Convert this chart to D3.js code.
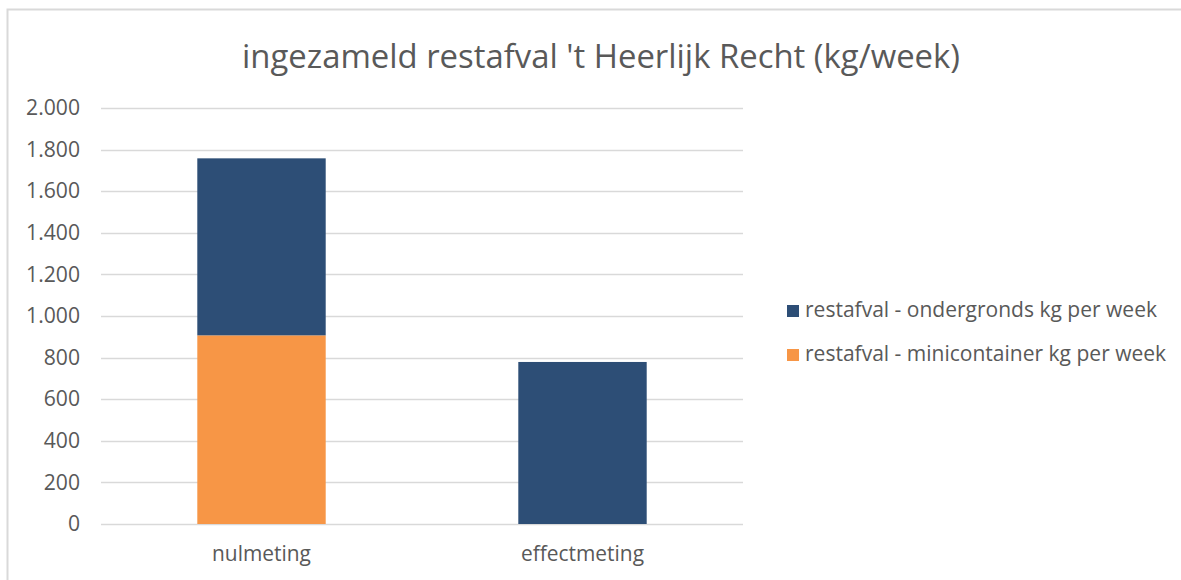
<!DOCTYPE html>
<html>
<head>
<meta charset="utf-8">
<script src="https://cdn.jsdelivr.net/npm/d3@7"></script>
<style>
  body { margin: 0; background: #fff; }
  text { font-family: "Open Sans", "Lato", sans-serif; fill: #595959; }
</style>
</head>
<body>
<div id="chart"></div>
<script>
// chart data
var categories = ["nulmeting", "effectmeting"];
var seriesNames = ["restafval - ondergronds kg per week", "restafval - minicontainer kg per week"];
var ondergronds = [851, 779];
var minicontainer = [907, 0];
var yTicks = [0, 200, 400, 600, 800, 1000, 1200, 1400, 1600, 1800, 2000];
var colors = ["#2d4e76", "#f79646"];

var W = 1181, H = 580;
var margin = {top: 108, left: 101, right: 438, bottom: 56};
var width = W - margin.left - margin.right;   // plot width
var height = H - margin.top - margin.bottom;  // plot height

// shrink/grow font so a text hits the width it has in the original (Calibri isn't available)
function fitWidth(sel, target) {
    sel.each(function() {
        var fs = parseFloat(d3.select(this).style("font-size"));
        var w = this.getComputedTextLength();
        d3.select(this).style("font-size", (fs * target / w).toFixed(2) + "px");
    });
}

var svg = d3.select("#chart").append("svg")
    .attr("width", W)
    .attr("height", H);

// outer chart border (cut off at right/bottom like the original)
svg.append("rect")
    .attr("x", 7.5).attr("y", 9.5)
    .attr("width", W + 10).attr("height", H + 10)
    .attr("fill", "none")
    .attr("stroke", "#d9d9d9")
    .attr("stroke-width", 2);

// title
svg.append("text")
    .attr("x", 601).attr("y", 68)
    .attr("text-anchor", "middle")
    .style("font-size", "28px")
    .text("ingezameld restafval 't Heerlijk Recht (kg/week)")
    .call(fitWidth, 718);

var g = svg.append("g")
    .attr("transform", "translate(" + margin.left + "," + margin.top + ")");

var x = d3.scaleBand()
    .domain(categories)
    .range([0, width])
    .paddingInner(0.6)
    .paddingOuter(0.3);

var y = d3.scaleLinear()
    .domain([0, 2000])
    .range([height, 0]);

var fmt = function(d) { return d3.format(",")(d).replace(/,/g, "."); };

// gridlines
g.append("g")
    .selectAll("line")
    .data(yTicks)
    .enter().append("line")
    .attr("x1", 0).attr("x2", width)
    .attr("y1", function(d) { return Math.round(y(d)) + 0.5; })
    .attr("y2", function(d) { return Math.round(y(d)) + 0.5; })
    .attr("stroke", "#d9d9d9")
    .attr("stroke-width", 1.5);

// y axis labels
var yAxis = d3.axisLeft(y).tickValues(yTicks).tickFormat(fmt).tickSize(0).tickPadding(21);
var yAxisG = g.append("g").call(yAxis);
yAxisG.select(".domain").remove();
yAxisG.selectAll("text")
    .attr("font-family", null)
    .style("font-size", "17px")
    .attr("fill", "#595959");
yAxisG.selectAll("text").filter(function(d) { return d === 2000; }).call(fitWidth, 54);
var ySize = yAxisG.selectAll("text").filter(function(d) { return d === 2000; }).style("font-size");
yAxisG.selectAll("text").style("font-size", ySize);

// x axis labels
var xAxis = d3.axisBottom(x).tickSize(0).tickPadding(22);
var xAxisG = g.append("g")
    .attr("transform", "translate(0," + height + ")")
    .call(xAxis);
xAxisG.select(".domain").remove();
xAxisG.selectAll("text")
    .attr("font-family", null)
    .style("font-size", "18px")
    .attr("fill", "#595959");
xAxisG.selectAll("text").filter(function(d) { return d === "nulmeting"; }).call(fitWidth, 99);
var xSize = xAxisG.selectAll("text").filter(function(d) { return d === "nulmeting"; }).style("font-size");
xAxisG.selectAll("text").style("font-size", xSize);

// stacked bars
var rows = categories.map(function(c, i) {
    return {cat: c, minicontainer: minicontainer[i], ondergronds: ondergronds[i]};
});
var stack = d3.stack().keys(["minicontainer", "ondergronds"]);
var layers = stack(rows);
var layerColor = {minicontainer: colors[1], ondergronds: colors[0]};

g.selectAll(".layer")
    .data(layers)
    .enter().append("g")
    .attr("class", "layer")
    .attr("fill", function(d) { return layerColor[d.key]; })
  .selectAll("rect")
    .data(function(d) { return d; })
    .enter().append("rect")
    .attr("x", function(d) { return x(d.data.cat); })
    .attr("width", x.bandwidth())
    .attr("y", function(d) { return y(d[1]); })
    .attr("height", function(d) { return y(d[0]) - y(d[1]); });

// legend
var legend = svg.append("g").attr("transform", "translate(787,305)");
var legendTexts = [];
seriesNames.forEach(function(name, i) {
    var row = legend.append("g").attr("transform", "translate(0," + (i * 44) + ")");
    row.append("rect")
        .attr("width", 12).attr("height", 12)
        .attr("fill", colors[i]);
    legendTexts.push(row.append("text")
        .attr("x", 18).attr("y", 12)
        .style("font-size", "18px")
        .text(name));
});
legendTexts[0].call(fitWidth, 352);
legendTexts[1].style("font-size", legendTexts[0].style("font-size"));
</script>
</body>
</html>
